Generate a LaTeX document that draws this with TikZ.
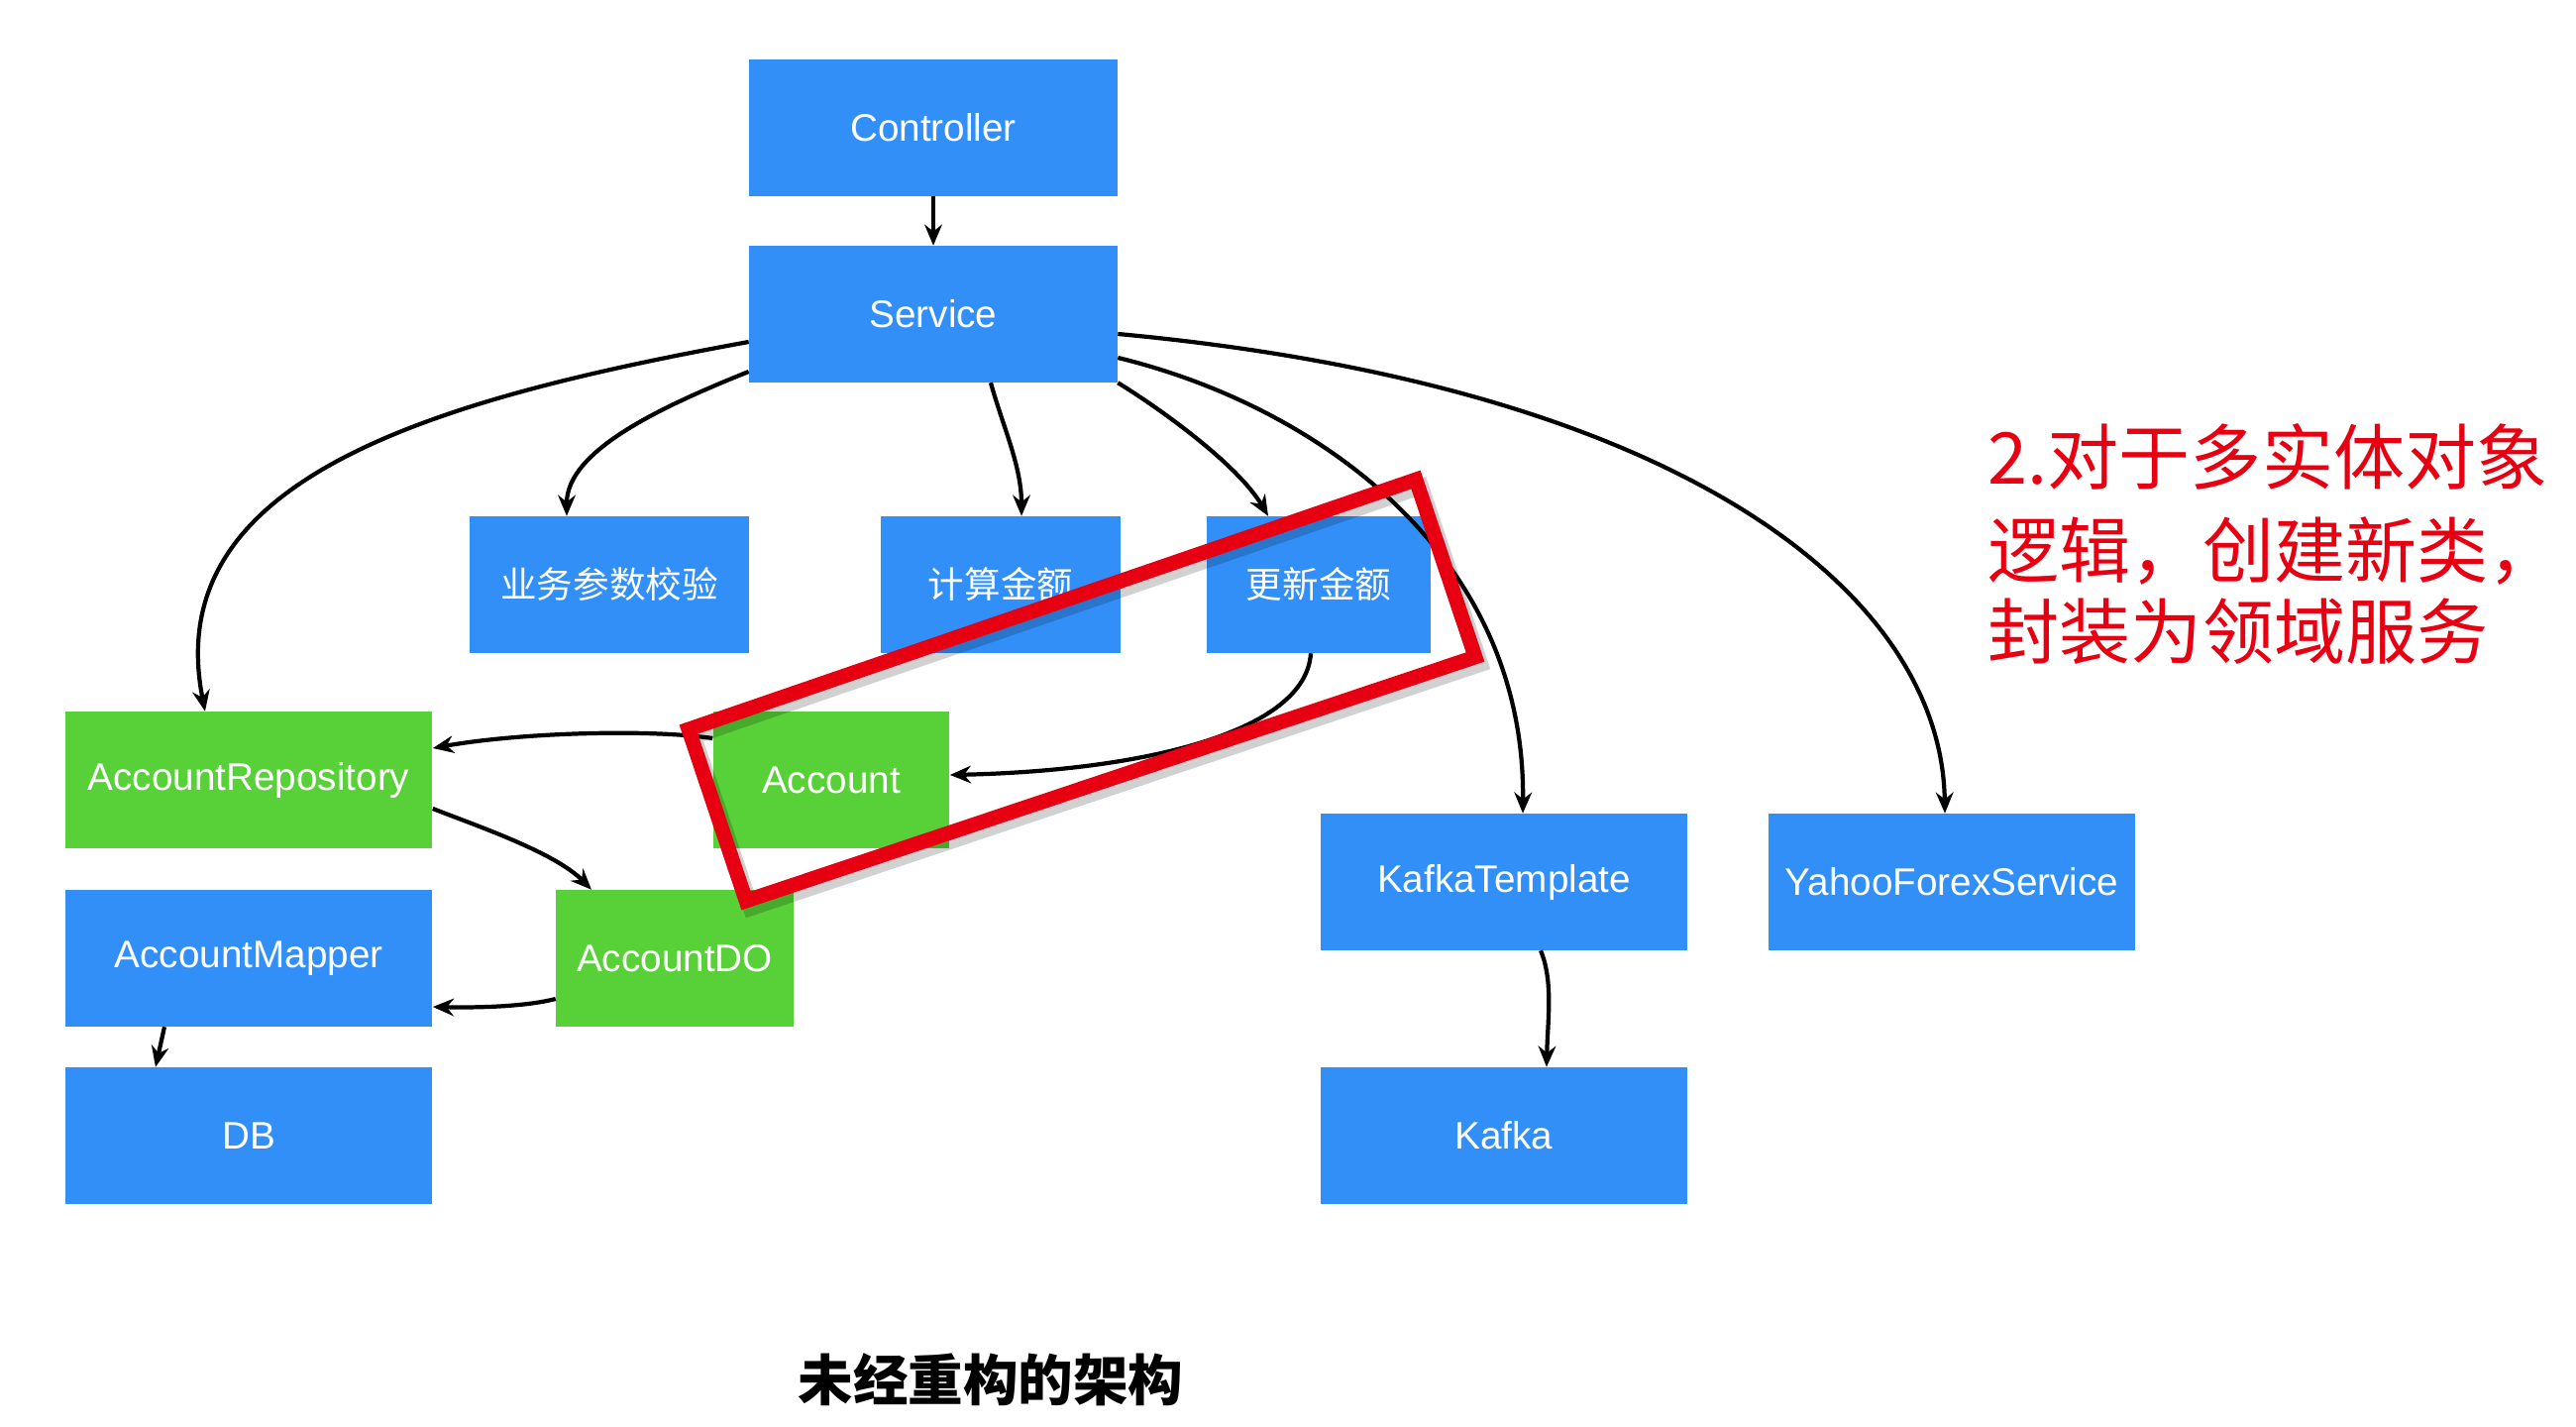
\documentclass[tikz,border=0pt]{standalone}
\usepackage{fontspec}
\setmainfont{Liberation Sans}
\newfontfamily\cjk{Noto Sans CJK SC}
\usetikzlibrary{arrows.meta,calc}
\definecolor{boxblue}{RGB}{50,143,248}
\definecolor{boxgreen}{RGB}{88,208,56}
\definecolor{markred}{RGB}{230,0,18}
\tikzset{
  box/.style={draw=none, text=white, inner sep=0pt, minimum height=1.37cm, font=\fontsize{11}{13}\selectfont},
  bluebox/.style={box, fill=boxblue},
  greenbox/.style={box, fill=boxgreen},
  cnbox/.style={font=\cjk\fontsize{10.4}{12}\selectfont},
  conn/.style={line width=1.2pt, -{Stealth[length=6pt,width=5pt]}},
  note/.style={anchor=west, text=markred, inner sep=0pt, font=\cjk\fontsize{20.5}{24}\selectfont},
}
\begin{document}
\begin{tikzpicture}[x=0.01cm,y=-0.01cm]
\useasboundingbox (0,0) rectangle (2600,1440);
\fill[white] (0,0) rectangle (2600,1440);

% boxes
\node[bluebox, minimum width=3.71cm] (ctrl) at (942,129) {Controller};
\node[bluebox, minimum width=3.71cm] (svc) at (942,317) {Service};
\node[bluebox, cnbox, minimum width=2.82cm] (check) at (615,590) {业务参数校验};
\node[bluebox, cnbox, minimum width=2.42cm] (calc) at (1010,590) {计算金额};
\node[bluebox, cnbox, minimum width=2.25cm] (upd) at (1331,590) {更新金额};
\node[greenbox, minimum width=3.70cm] (repo) at (251,787) {AccountRepository};
\node[greenbox, minimum width=2.38cm] (acct) at (839,787) {Account};
\node[bluebox, minimum width=3.70cm] (mapper) at (251,967) {AccountMapper};
\node[greenbox, minimum width=2.39cm] (accdo) at (681,967) {AccountDO};
\node[bluebox, minimum width=3.70cm] (db) at (251,1146) {DB};
\node[bluebox, minimum width=3.70cm] (kt) at (1518,890) {KafkaTemplate};
\node[bluebox, minimum width=3.69cm] (yahoo) at (1970,890) {YahooForexService};
\node[bluebox, minimum width=3.70cm] (kafka) at (1518,1146) {Kafka};

% connectors
\draw[conn] (ctrl.south) -- (svc.north);
\draw[conn] ($(svc.west)+(0,28)$) .. controls (426,405) and (161,486) .. ($(repo.north)+(-44,0)$);
\draw[conn] ($(svc.west)+(0,58)$) .. controls (666,411) and (572,455) .. ($(check.north)+(-43,0)$);
\draw[conn] ($(svc.south)+(58,0)$) .. controls (1012,430) and (1031,470) .. ($(calc.north)+(21,0)$);
\draw[conn] (svc.south east) .. controls (1175,415) and (1250,470) .. ($(upd.north)+(-51,0)$);
\draw[conn] ($(svc.east)+(0,44)$) .. controls (1330,410) and (1540,560) .. ($(kt.north)+(19,0)$);
\draw[conn] ($(svc.east)+(0,20)$) .. controls (1700,390) and (1960,600) .. ($(yahoo.north)+(-7,0)$);
\draw[conn] ($(upd.south)+(-8,0)$) .. controls (1318,740) and (1150,778) .. ($(acct.east)+(0,-5)$);
\draw[conn] ($(acct.west)+(0,-42)$) .. controls (650,735) and (520,740) .. ($(repo.east)+(0,-32)$);
\draw[conn] ($(repo.east)+(0,29)$) .. controls (480,833) and (560,860) .. ($(accdo.north)+(-84,0)$);
\draw[conn] ($(accdo.west)+(0,41)$) .. controls (530,1016) and (480,1017) .. ($(mapper.east)+(0,49)$);
\draw[conn] ($(mapper.south)+(-85,0)$) -- ($(db.north)+(-94,0)$);
\draw[conn] ($(kt.south)+(37,0)$) .. controls (1568,990) and (1562,1030) .. ($(kafka.north)+(43,0)$);

% red highlight frame
\draw[black, opacity=0.18, line width=4.6pt, shift={(5,7)}]
  (695,736) -- (1429,484) -- (1489,663) -- (753,909) -- cycle;
\draw[markred, line width=4.2pt, line join=miter]
  (695,736) -- (1429,484) -- (1489,663) -- (753,909) -- cycle;

% annotation
\node[note] (n1) at (2006,461) {2.对于多实体对象};
\node[note] (n2) at (2006,556) {逻辑，创建新类，};
\node[note] (n3) at (2006,637) {封装为领域服务};

% caption
\node[font=\cjk\bfseries\fontsize{15.8}{18}\selectfont, inner sep=0pt] (cap) at (1000,1392) {未经重构的架构};
\end{tikzpicture}
\end{document}
